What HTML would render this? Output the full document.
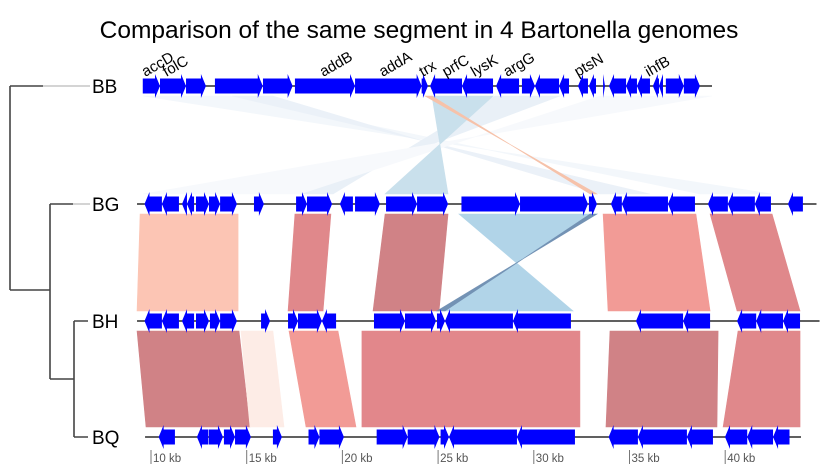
<!DOCTYPE html>
<html><head><meta charset="utf-8"><style>
body{margin:0;background:#fff}
svg{display:block;font-family:"Liberation Sans",Arial,sans-serif}
</style></head><body>
<svg id="chart" width="828" height="473" viewBox="0 0 828 473" xmlns="http://www.w3.org/2000/svg">
<text x="419" y="38" font-size="24.5" text-anchor="middle" fill="#000">Comparison of the same segment in 4 Bartonella genomes</text>
<g id="tree" stroke="#444" stroke-width="1.6" fill="none">
<path d="M10,86 V290 M10,86 H43 M10,290 H50 M50,204 V379 M50,204 H73 M50,379 H74 M74,321 V437 M74,321 H88 M74,437 H88"/>
<path d="M43,86 H90 M73,204 H90" stroke="#bbb" stroke-width="1.2"/>
</g>
<g id="comps"></g>
<g id="rows"></g>
<g id="axis"></g>
</svg>
<script>
const rowNames=["BB","BG","BH","BQ"];
const rowY=[86,204,321,437];
const rowRange=[[9.58,39.31],[9.27,44.77],[9.27,44.93],[9.69,43.96]];
const genesBB=[[9.57,10.47,1],[10.47,11.83,1],[11.83,12.87,1],[13.34,15.84,1],[15.85,17.40,1],[17.52,20.66,1],[20.66,24.14,1],[24.14,24.47,1],[24.58,26.25,-1],[26.25,27.87,-1],[28.03,29.23,-1],[29.38,30.06,1],[30.06,31.32,-1],[31.32,31.84,-1],[32.31,32.83,-1],[32.88,33.25,-1],[33.62,33.72,1],[33.93,34.82,-1],[34.82,35.39,-1],[35.39,36.07,-1],[36.22,36.54,-1],[36.54,36.75,-1],[36.90,37.84,1],[37.84,38.68,1]];
const genesBG=[[9.66,10.57,-1],[10.57,11.46,-1],[11.62,11.88,-1],[11.88,12.25,-1],[12.35,13.03,1],[13.03,13.61,1],[13.61,14.49,1],[15.38,15.90,1],[17.58,18.15,1],[18.15,19.46,1],[19.87,20.55,-1],[20.66,21.96,1],[22.28,23.90,1],[23.90,25.52,1],[26.22,29.28,1],[29.28,32.83,1],[32.88,33.30,1],[34.03,34.60,-1],[34.60,37.01,-1],[37.01,38.42,-1],[39.10,40.14,-1],[40.14,41.55,-1],[41.55,42.39,-1],[43.28,44.06,-1]];
const genesBH=[[9.66,10.57,-1],[10.57,11.46,-1],[11.62,12.25,-1],[12.35,13.03,1],[13.08,13.61,1],[13.61,14.49,1],[15.75,16.22,1],[17.16,17.68,1],[17.68,18.93,1],[18.93,19.67,-1],[21.65,23.27,1],[23.27,24.89,1],[24.94,25.36,1],[25.36,28.91,-1],[28.91,31.94,-1],[35.34,37.80,-1],[37.80,39.21,-1],[40.62,41.62,-1],[41.62,43.02,-1],[43.02,43.91,-1]];
const genesBQ=[[10.40,11.25,-1],[12.40,12.98,-1],[13.01,13.76,1],[13.81,14.39,1],[14.39,15.22,1],[16.37,16.84,1],[18.23,18.80,1],[18.80,20.08,1],[21.79,23.41,1],[23.41,25.07,1],[25.13,25.57,1],[25.57,29.12,-1],[29.12,32.15,-1],[33.91,35.44,-1],[35.44,38.00,-1],[38.00,39.36,-1],[39.99,41.15,-1],[41.15,42.50,-1],[42.50,43.36,-1]];
const geneLabels=["accD","folC","addB","addA","trx","prfC","lysK","argG","ptsN","ihfB"];
const geneLabelPos=[9.7,10.8,19.0,22.1,24.2,25.4,26.9,28.6,32.3,36.0];
// comparisons: [top1, top2, bottom1, bottom2, color]
const compsBBBG=[[9.58,14.13,42.45,38.68,"#f3f7fb"],[14.23,16.37,36.07,33.46,"#ebf1f8"],[27.97,31.37,19.51,17.78,"#e9f0f7"],[33.46,39.31,17.78,9.58,"#f7f9fc"],[24.68,27.87,25.52,22.23,"#c9e0ec"],[24.32,24.68,33.30,32.94,"#f6c2aa"]];
const compsBGBH=[[9.43,14.55,9.27,14.55,"#fcc5b4"],[17.52,19.40,17.16,18.99,"#e0888b"],[22.23,25.52,21.60,25.05,"#d08286"],[26.09,32.94,32.05,25.36,"#b1d4e8"],[32.94,33.30,25.36,24.94,"#7392b4"],[33.62,38.47,33.88,39.21,"#f29b96"],[39.21,42.45,40.62,43.91,"#e0888b"]];
const compsBHBQ=[[9.27,14.60,9.74,15.17,"#d08286"],[14.70,16.37,15.17,16.95,"#fdece6"],[17.21,19.77,18.10,20.71,"#f29b96"],[21.02,32.41,21.02,32.41,"#e2878b"],[33.98,39.63,33.77,39.57,"#d08286"],[40.67,43.91,39.89,43.91,"#e0888b"]];
const tickKb=[10,15,20,25,30,35,40];
const tickLabels=["10 kb","15 kb","20 kb","25 kb","30 kb","35 kb","40 kb"];

const NS="http://www.w3.org/2000/svg";
function X(kb){return 151+(kb-10)*19.14;}
function mk(tag,attrs,parent){const e=document.createElementNS(NS,tag);for(const k in attrs)e.setAttribute(k,attrs[k]);parent.appendChild(e);return e;}
const comps=document.getElementById('comps'),rows=document.getElementById('rows'),axis=document.getElementById('axis');
const compSets=[compsBBBG,compsBGBH,compsBHBQ];
const compNames=["bb-bg","bg-bh","bh-bq"];
compSets.forEach((set,i)=>{
  const yt=rowY[i]+10,yb=rowY[i+1]-10;
  set.forEach((c,j)=>{
    const p=mk('polygon',{points:`${X(c[0])},${yt} ${X(c[1])},${yt} ${X(c[3])},${yb} ${X(c[2])},${yb}`,fill:c[4],stroke:c[4],'stroke-width':0.6},comps);
    
    
  });
});
const geneSets=[genesBB,genesBG,genesBH,genesBQ];
geneSets.forEach((set,i)=>{
  const y=rowY[i];
  const lab=mk('text',{x:92,y:y+7,'font-size':19,fill:'#000'},rows);
  lab.textContent=rowNames[i];
  
  
  const ln=mk('line',{x1:X(rowRange[i][0]),x2:X(rowRange[i][1]),y1:y,y2:y,stroke:'#000','stroke-width':1.2},rows);
  
  
  set.forEach((g,j)=>{
    const a=X(g[0]),b=X(g[1]),len=b-a,h=Math.min(5,len);
    let pts;
    if(g[2]>0){pts=`${a},${y-7.5} ${b-h},${y-7.5} ${b-h},${y-12} ${b},${y} ${b-h},${y+12} ${b-h},${y+7.5} ${a},${y+7.5}`;}
    else{pts=`${b},${y-7.5} ${a+h},${y-7.5} ${a+h},${y-12} ${a},${y} ${a+h},${y+12} ${a+h},${y+7.5} ${b},${y+7.5}`;}
    const p=mk('polygon',{points:pts,fill:'#0000ff'},rows);
    
    
  });
});
geneLabels.forEach((n,i)=>{
  const x=X(geneLabelPos[i]),y=77;
  const t=mk('text',{x:x,y:y,'font-size':15,fill:'#000',transform:`rotate(-30 ${x} ${y})`},rows);
  t.textContent=n;
  
  
});
tickKb.forEach((k,i)=>{
  const x=X(k);
  const l=mk('line',{x1:x,x2:x,y1:450,y2:464,stroke:'#777','stroke-width':1},axis);
  
  
  const t=mk('text',{x:x+2,y:462,'font-size':11.5,fill:'#555'},axis);
  t.textContent=tickLabels[i];
  
  
});
</script>
</body></html>
